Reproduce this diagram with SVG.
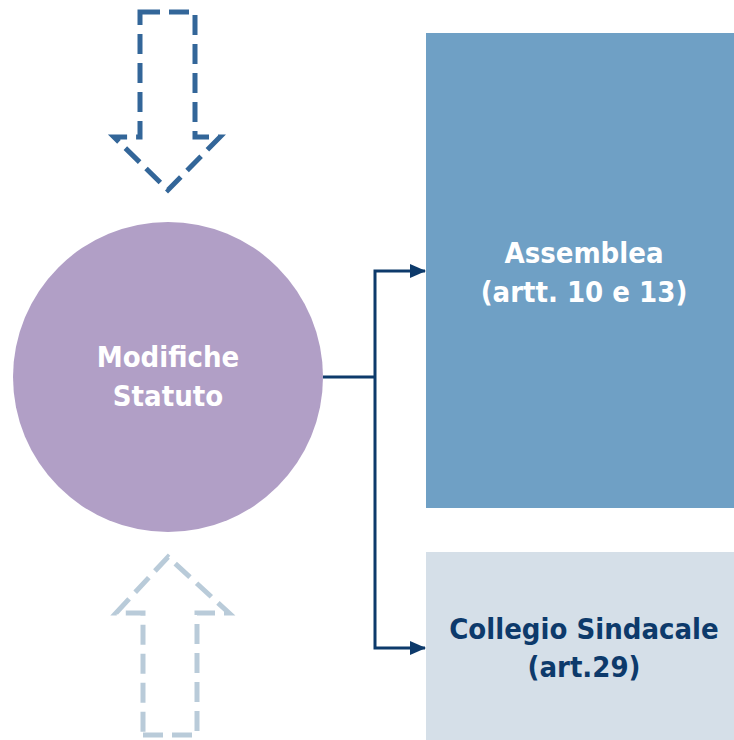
<svg xmlns="http://www.w3.org/2000/svg" width="734" height="740" viewBox="0 0 734 740">
<defs>
<style>
.lbl{font-family:"DejaVu Sans Condensed","DejaVu Sans","Liberation Sans",sans-serif;font-stretch:condensed;font-weight:bold;font-size:29px;text-anchor:middle}
.conn{fill:none;stroke:#0d3a6b;stroke-width:3}
.dash{fill:none;stroke-width:5;stroke-dasharray:20 9}
</style>
<marker id="ah" markerWidth="16" markerHeight="14" refX="15" refY="7" orient="auto" markerUnits="userSpaceOnUse" viewBox="0 0 16 14">
<path d="M0,0 L16,7 L0,14 z" fill="#0d3a6b"/>
</marker>
</defs>
<rect width="734" height="740" fill="#fff"/>
<g id="arrow-down">
<path class="dash" stroke="#336699" d="M140,12 L195,12 L195,137 L220,137 L168,190 L114,137 L140,137 Z"/>
</g>
<g id="arrow-up">
<path class="dash" stroke="#b9cbd9" d="M143,735 L197,735 L197,613 L229,613 L168,557 L116,613 L143,613 Z"/>
</g>
<g id="circle-node">
<circle cx="168" cy="377" r="155" fill="#b19fc6"/>
<text class="lbl" fill="#fff" x="168" y="367">Modifiche</text>
<text class="lbl" fill="#fff" x="168" y="406">Statuto</text>
</g>
<g id="assemblea">
<rect x="426" y="33" width="308" height="475" fill="#6fa0c5"/>
<text class="lbl" fill="#fff" x="584" y="263">Assemblea</text>
<text class="lbl" fill="#fff" x="584" y="302">(artt. 10 e 13)</text>
</g>
<g id="collegio">
<rect x="426" y="552" width="308" height="188" fill="#d5dfe8"/>
<text class="lbl" fill="#0d3a6b" x="584" y="639">Collegio Sindacale</text>
<text class="lbl" fill="#0d3a6b" x="584" y="677">(art.29)</text>
</g>
<g id="connectors">
<path class="conn" d="M323,377 L375,377"/>
<path class="conn" d="M375,377 L375,271 L425,271" marker-end="url(#ah)"/>
<path class="conn" d="M375,377 L375,648 L425,648" marker-end="url(#ah)"/>
</g>
</svg>
